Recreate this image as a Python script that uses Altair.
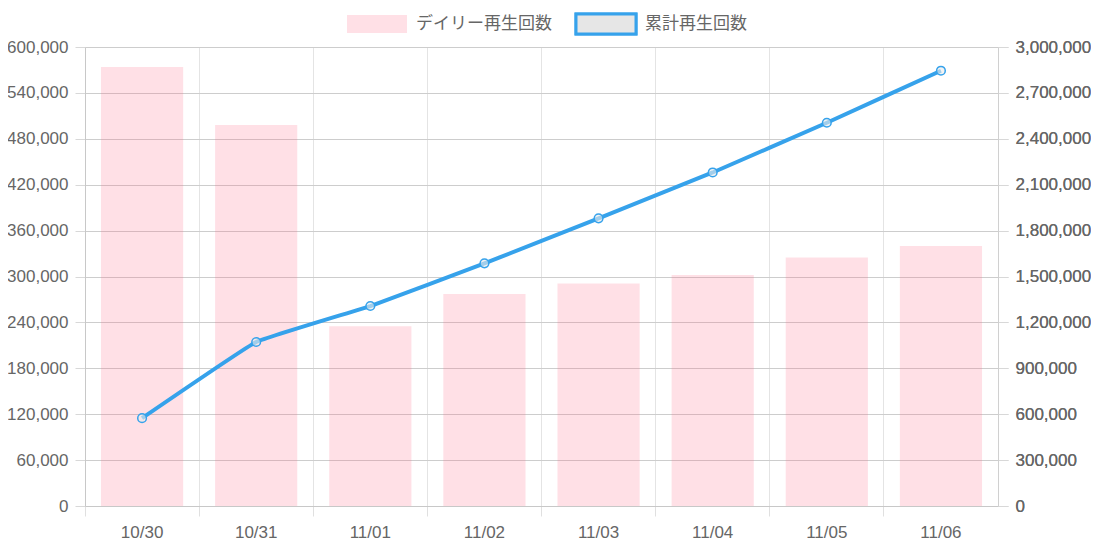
import altair as alt
import pandas as pd

dates = ["10/30", "10/31", "11/01", "11/02", "11/03", "11/04", "11/05", "11/06"]
daily = [574000, 498000, 235000, 277000, 291000, 302000, 325000, 340000]
cumulative = [574000, 1072000, 1307000, 1586000, 1880000, 2180000, 2505000, 2845000]
legend_labels = ["デイリー再生回数", "累計再生回数"]

df = pd.DataFrame({"date": dates, "daily": daily, "cum": cumulative})

FONT = "Liberation Sans, Arial, Noto Sans CJK JP"
TXT = "#666666"
BLUE = "#36A2EB"
PINK = "rgba(255,99,132,0.2)"

x_enc = alt.X(
    "date:N",
    sort=dates,
    title=None,
    scale=alt.Scale(paddingInner=0, paddingOuter=0),
    axis=alt.Axis(
        bandPosition=0,
        labelAngle=0,
        grid=True,
        gridColor="#e4e4e4",
        tickSize=10,
        tickColor="#e0e0e0",
        domainColor="#c8c8c8",
        labelPadding=8,
        labelColor=TXT,
        labelFontSize=17,
        labelFont=FONT,
    ),
)

base = alt.Chart(df)

bars = base.mark_bar(color=PINK, width=alt.RelativeBandSize(0.72)).encode(
    x=x_enc,
    y=alt.Y(
        "daily:Q",
        title=None,
        scale=alt.Scale(domain=[0, 600000], nice=False),
        axis=alt.Axis(
            values=list(range(0, 600001, 60000)),
            format=",d",
            grid=True,
            gridColor="#cdcdcd",
            tickColor="#d8d8d8",
            tickSize=10,
            domainColor="#c8c8c8",
            labelPadding=7,
            labelColor=TXT,
            labelFontSize=17,
            labelFont=FONT,
        ),
    ),
)

y2 = alt.Y(
    "cum:Q",
    title=None,
    scale=alt.Scale(domain=[0, 3000000], nice=False),
    axis=alt.Axis(
        orient="right",
        values=list(range(0, 3000001, 300000)),
        format=",d",
        grid=False,
        tickColor="#d8d8d8",
        tickSize=10,
        domainColor="#d0d0d0",
        labelPadding=7,
        labelColor=TXT,
        labelFontSize=17,
        labelFont=FONT,
    ),
)

line = base.mark_line(color=BLUE, strokeWidth=4, interpolate="cardinal", tension=0.75).encode(
    x=alt.X("date:N", sort=dates), y=y2
)
points = base.mark_point(
    filled=False, fill="rgba(235,235,235,0.6)", stroke=BLUE, strokeWidth=1.5, size=75, opacity=1
).encode(x=alt.X("date:N", sort=dates), y=y2)

leg_df = pd.DataFrame({"label": legend_labels})
leg = alt.Chart(leg_df)
leg_box1 = leg.mark_rect(color="rgb(255,224,230)").encode(
    x=alt.value(262), x2=alt.value(322), y=alt.value(-32), y2=alt.value(-14)
)
leg_box2 = leg.mark_rect(fill="#e6e6e6", stroke=BLUE, strokeWidth=3).encode(
    x=alt.value(491), x2=alt.value(551), y=alt.value(-33), y2=alt.value(-13)
)
leg_txt1 = alt.Chart(pd.DataFrame({"label": [legend_labels[0]]})).mark_text(
    align="left", baseline="middle", fontSize=17, font=FONT, color=TXT
).encode(text="label:N", x=alt.value(331), y=alt.value(-23))
leg_txt2 = alt.Chart(pd.DataFrame({"label": [legend_labels[1]]})).mark_text(
    align="left", baseline="middle", fontSize=17, font=FONT, color=TXT
).encode(text="label:N", x=alt.value(560), y=alt.value(-23))

main = alt.layer(bars, line, points).resolve_scale(y="independent")
chart = (
    alt.layer(main, leg_box1, leg_box2, leg_txt1, leg_txt2)
    .properties(
        width=913,
        height=459,
        autosize=alt.AutoSizeParams(type="none"),
        padding={"left": 77, "top": 39, "right": 93, "bottom": 34},
    )
    .configure_view(stroke=None)
    .configure(font=FONT)
)

chart.save("out.html", embed_options={"renderer": "svg", "actions": False})
